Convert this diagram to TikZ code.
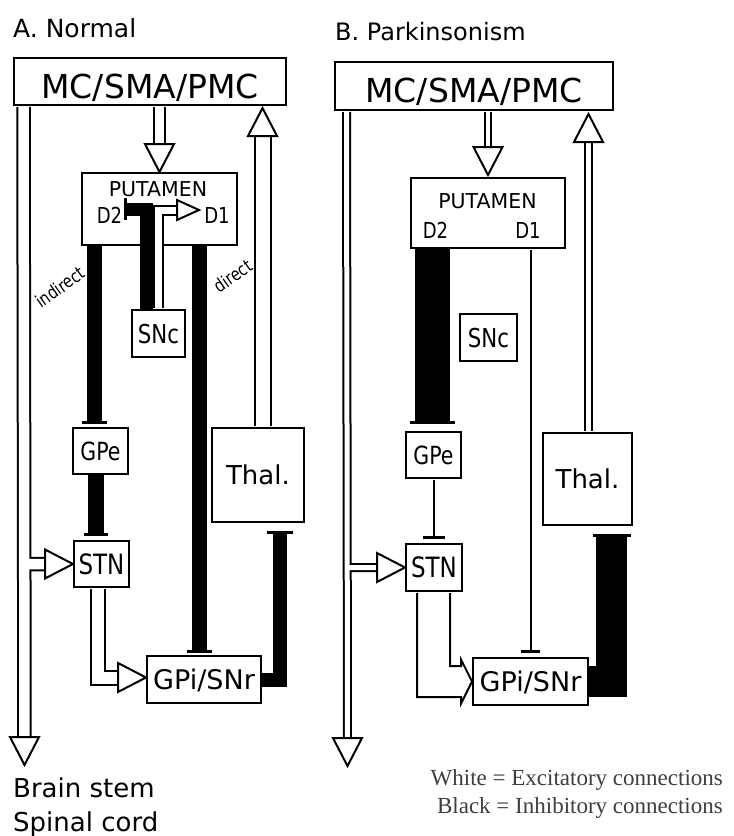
\documentclass[tikz,border=0pt]{standalone}
\usepackage{fontspec}
\usetikzlibrary{arrows.meta,calc}
\newfontfamily\diafont{DejaVu Sans}
\newfontfamily\narrowfont[FakeStretch=0.82]{DejaVu Sans}
\newfontfamily\legendfont{Liberation Serif}
\newcommand{\diasize}[1]{\diafont\fontsize{#1}{#1}\selectfont}
\newcommand{\narrowsize}[1]{\narrowfont\fontsize{#1}{#1}\selectfont}
\definecolor{legendgray}{RGB}{62,62,62}
\begin{document}
\begin{tikzpicture}[x=1pt, y=-1pt,
  box/.style={draw, line width=2pt, inner sep=0pt, text depth=0pt},
  lbl/.style={inner sep=0pt, text depth=0pt},
  exc/.style={double, double distance=#1, line width=2pt, line join=miter},
  inh/.style={line join=miter, -{Bar[width=#1, line width=3pt]}},
  thinline/.style={line width=2pt},
  legend/.style={anchor=base east, inner sep=0pt, text=legendgray, font=\legendfont\fontsize{23}{23}\selectfont},
  whitehead/.pic={\draw[fill=white, line width=2pt, line join=miter] (0,0) -- (-28,-14.5) -- (-28,14.5) -- cycle;},
  smallhead/.pic={\draw[fill=white, line width=2pt, line join=miter] (0,0) -- (-22,-10) -- (-22,10) -- cycle;}]
  \fill[white] (0,0) rectangle (734,836);
  \useasboundingbox (0,0) rectangle (734,836);

  \node[lbl, anchor=base west, font=\diasize{25}] (titleA) at (13,37) {A. Normal};
  \node[box, minimum width=272pt, minimum height=47pt, text height=34pt, font=\diasize{33}] (mcA) at (150,81.5) {MC/SMA/PMC};
  \node[box, minimum width=155pt, minimum height=72pt] (putA) at (159.5,209) {};
  \node[lbl, font=\diasize{20.5}] (putAlbl) at (158,189.5) {PUTAMEN};
  \node[lbl, font=\narrowsize{22}] (d2A) at (109.5,215) {D2};
  \node[lbl, font=\narrowsize{22}] (d1A) at (217,215) {D1};
  \node[box, minimum width=53pt, minimum height=47pt, font=\narrowsize{26}] (sncA) at (158.5,333.5) {SNc};
  \node[box, minimum width=55pt, minimum height=46pt, font=\narrowsize{25}] (gpeA) at (100.5,451) {GPe};
  \node[box, minimum width=55pt, minimum height=46pt, font=\narrowsize{28}] (stnA) at (101.5,564) {STN};
  \node[box, minimum width=114pt, minimum height=47pt, font=\diasize{27}] (gpiA) at (204,679.5) {GPi/SNr};
  \node[box, minimum width=92pt, minimum height=94pt, font=\diasize{26}] (thalA) at (258,475) {Thal.};
  \node[lbl, rotate=35, font=\narrowsize{18}] (indirA) at (60,287) {indirect};
  \node[lbl, rotate=35, font=\narrowsize{18}] (dirA) at (233,276) {direct};
  \node[lbl, anchor=base west, font=\diasize{26}] (brainA) at (13,797) {Brain stem};
  \node[lbl, anchor=base west, font=\diasize{26}] (spinalA) at (13,831) {Spinal cord};

  \coordinate (bsA) at (24.5,765);
  \draw[exc=10.5pt] ($(mcA.south west)+(10.5,1)$) -- ($(bsA)+(0,-27)$)
    (bsA |- stnA.west) -- ($(stnA.west)+(-27,0)$);
  \pic[rotate=-90] at (bsA) {whitehead};
  \pic at (stnA.west) {whitehead};
  \draw[exc=9pt] ($(mcA.south -| putA.north)+(0,1)$) -- ($(putA.north)+(0,-27)$);
  \pic[rotate=-90] at (putA.north) {whitehead};
  \draw[exc=14pt] ($(thalA.north)+(4.5,-1)$) -- ($(thalA.north |- mcA.south)+(4.5,29)$);
  \pic[rotate=90] at ($(thalA.north |- mcA.south)+(4.5,2)$) {whitehead};
  \draw[exc=7pt] ($(sncA.north)+(0,-1)$) |- ($(putA.west)+(97,1)$);
  \pic at ($(putA.west)+(118,1)$) {smallhead};
  \draw[exc=12pt] ($(stnA.south)+(-3.5,1)$) |- ($(gpiA.west)+(-27,-2)$);
  \pic at ($(gpiA.west)+(0,-2)$) {whitehead};

  \draw[inh=25pt, line width=15pt] ($(putA.south -| gpeA.north)+(-6,0)$) -- ($(gpeA.north)+(-6,-3)$);
  \draw[inh=24pt, line width=16pt] ($(gpeA.south)+(-4.5,0)$) -- ($(stnA.north)+(-5.5,-4)$);
  \draw[inh=22pt, line width=13pt] ($(sncA.north)+(-12,0)$) |- ($(putA.west)+(43,0)$);
  \draw[inh=25pt, line width=15pt] ($(putA.south)+(40,0)$) -- ($(gpiA.north)+(-4.5,-2)$);
  \draw[inh=26pt, line width=14pt] (gpiA.east) -| ($(thalA.south)+(21.5,8)$);

  \node[lbl, anchor=base west, font=\diasize{24}] (titleB) at (335,40) {B. Parkinsonism};
  \node[box, minimum width=278pt, minimum height=48pt, text height=33pt, font=\diasize{33}] (mcB) at (474,86) {MC/SMA/PMC};
  \node[box, minimum width=154pt, minimum height=70pt] (putB) at (488,213) {};
  \node[lbl, font=\diasize{20.5}] (putBlbl) at (487.5,201) {PUTAMEN};
  \node[lbl, font=\narrowsize{22}] (d2B) at (435.5,230) {D2};
  \node[lbl, font=\narrowsize{22}] (d1B) at (528,230) {D1};
  \node[box, minimum width=57pt, minimum height=47pt, font=\narrowsize{26}] (sncB) at (488.5,337.5) {SNc};
  \node[box, minimum width=55pt, minimum height=46pt, font=\narrowsize{25}] (gpeB) at (433.5,455) {GPe};
  \node[box, minimum width=56pt, minimum height=47pt, font=\narrowsize{28}] (stnB) at (434,567.5) {STN};
  \node[box, minimum width=115pt, minimum height=47pt, font=\diasize{27}] (gpiB) at (530.5,681.5) {GPi/SNr};
  \node[box, minimum width=89pt, minimum height=92pt, font=\diasize{26}] (thalB) at (587.5,479) {Thal.};

  \coordinate (bsB) at (347.5,766);
  \draw[exc=5pt] ($(mcB.south west)+(12.5,1)$) -- ($(bsB)+(0,-27)$)
    (bsB |- stnB.west) -- ($(stnB.west)+(-27,0)$);
  \pic[rotate=-90] at (bsB) {whitehead};
  \pic at (stnB.west) {whitehead};
  \draw[exc=4.5pt] ($(mcB.south -| putB.north)+(0,1)$) -- ($(putB.north)+(0,-29)$);
  \pic[rotate=-90] at ($(putB.north)+(0,-2)$) {whitehead};
  \draw[exc=5pt] ($(thalB.north)+(1,-1)$) -- ($(thalB.north |- mcB.south)+(1,30)$);
  \pic[rotate=90] at ($(thalB.north |- mcB.south)+(1,3)$) {whitehead};
  \draw[thinline, line join=miter] ($(stnB.south)+(16,1)$) |- ($(gpiB.west)+(-11,-15.5)$) -- ($(gpiB.west)+(-11,-22)$) -- (gpiB.west)
    -- ($(gpiB.west)+(-11,22)$) -- ($(gpiB.west)+(-11,15.5)$) -| ($(stnB.south)+(-17,1)$);

  \draw[inh=45pt, line width=35pt] ($(putB.south -| gpeB.north)+(-1,0)$) -- ($(gpeB.north)+(-1,-7)$);
  \draw[inh=22pt, thinline] ($(gpeB.south)+(0,1)$) -- ($(gpeB.south |- stnB.north)+(0,-4)$);
  \draw[inh=19pt, thinline] ($(putB.south -| gpiB.north)+(0,1)$) -- ($(gpiB.north)+(0,-4)$);
  \draw[inh=38pt, line width=31pt] (gpiB.east) -| ($(thalB.south)+(24,8)$);

  \node[legend] (legWhite) at (723,785) {White = Excitatory connections};
  \node[legend] (legBlack) at (723,813) {Black = Inhibitory connections};
\end{tikzpicture}
\end{document}
